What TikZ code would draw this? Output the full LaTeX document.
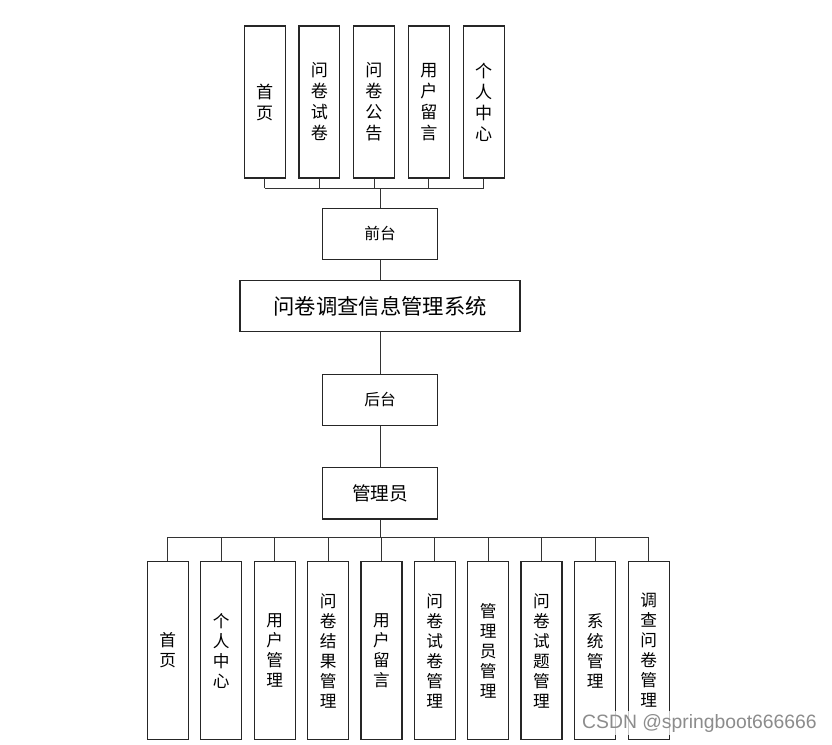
\documentclass[tikz,border=0pt]{standalone}
\usepackage{fontspec}
\setmainfont{Noto Sans CJK SC}
\newfontfamily\wmfont{Liberation Sans}
\begin{document}
\begin{tikzpicture}[x=0.75pt,y=-0.75pt,
  box/.style={draw=black!85,line width=0.8pt,rectangle,inner sep=0pt,align=center},
  vtop/.style={box,minimum width=30.5pt,minimum height=114pt,font=\fontsize{12.8}{15.75}\selectfont},
  vbot/.style={box,minimum width=30.75pt,minimum height=133.2pt,font=\fontsize{12.5}{15}\selectfont},
  hbox/.style={box,minimum width=86pt,minimum height=38pt},
  conn/.style={draw=black!80,line width=0.75pt}]
\useasboundingbox (0,0) rectangle (832,744);
\fill[white] (0,0) rectangle (832,744);
% top boxes
\node[vtop] (t1) at (264.7,102) {首\\页};
\node[vtop] (t2) at (319.3,102) {问\\卷\\试\\卷};
\node[vtop] (t3) at (374,102) {问\\卷\\公\\告};
\node[vtop] (t4) at (428.8,102) {用\\户\\留\\言};
\node[vtop] (t5) at (483.7,102) {个\\人\\中\\心};
% middle column
\node[hbox,font=\fontsize{11.8}{14}\selectfont] (qt) at (380,233.7) {前台};
\node[box,minimum width=210pt,minimum height=38pt,font=\fontsize{16}{20}\selectfont] (sys) at (380,306) {问卷调查信息管理系统};
\node[hbox,font=\fontsize{11.8}{14}\selectfont] (ht) at (380,399.7) {后台};
\node[hbox,minimum height=38.5pt,font=\fontsize{14}{17}\selectfont] (adm) at (380,493.3) {管理员};
% bottom boxes
\node[vbot] (b1) at (167.8,650.5) {首\\页};
\node[vbot] (b2) at (221.2,650.5) {个\\人\\中\\心};
\node[vbot] (b3) at (274.8,650.5) {用\\户\\管\\理};
\node[vbot] (b4) at (328.2,650.5) {问\\卷\\结\\果\\管\\理};
\node[vbot] (b5) at (381.5,650.5) {用\\户\\留\\言};
\node[vbot] (b6) at (434.8,650.5) {问\\卷\\试\\卷\\管\\理};
\node[vbot] (b7) at (488.2,650.5) {管\\理\\员\\管\\理};
\node[vbot] (b8) at (541.5,650.5) {问\\卷\\试\\题\\管\\理};
\node[vbot] (b9) at (595.2,650.5) {系\\统\\管\\理};
\node[vbot] (b10) at (648.8,650.5) {调\\查\\问\\卷\\管\\理};
% top connectors
\coordinate (tb) at (380,188.3);
\foreach \n in {t1,t2,t3,t4,t5} \draw[conn] (\n.south) -- (\n.south |- tb);
\draw[conn] (t1.south |- tb) -- (t5.south |- tb);
\draw[conn] (tb) -- (qt.north);
\draw[conn] (qt.south) -- (sys.north);
\draw[conn] (sys.south) -- (ht.north);
\draw[conn] (ht.south) -- (adm.north);
% bottom connectors
\coordinate (bb) at (380,537.3);
\draw[conn] (adm.south) -- (bb);
\foreach \n in {b1,b2,b3,b4,b5,b6,b7,b8,b9,b10} \draw[conn] (\n.north) -- (\n.north |- bb);
\draw[conn] (b1.north |- bb) -- (b10.north |- bb);
% watermark
\node[fill=white,fill opacity=0.75,text opacity=1,text=black!45,inner sep=2pt,font=\wmfont\fontsize{14.5}{17}\selectfont] (wm) at (699.5,723) {CSDN @springboot666666};
\end{tikzpicture}
\end{document}
